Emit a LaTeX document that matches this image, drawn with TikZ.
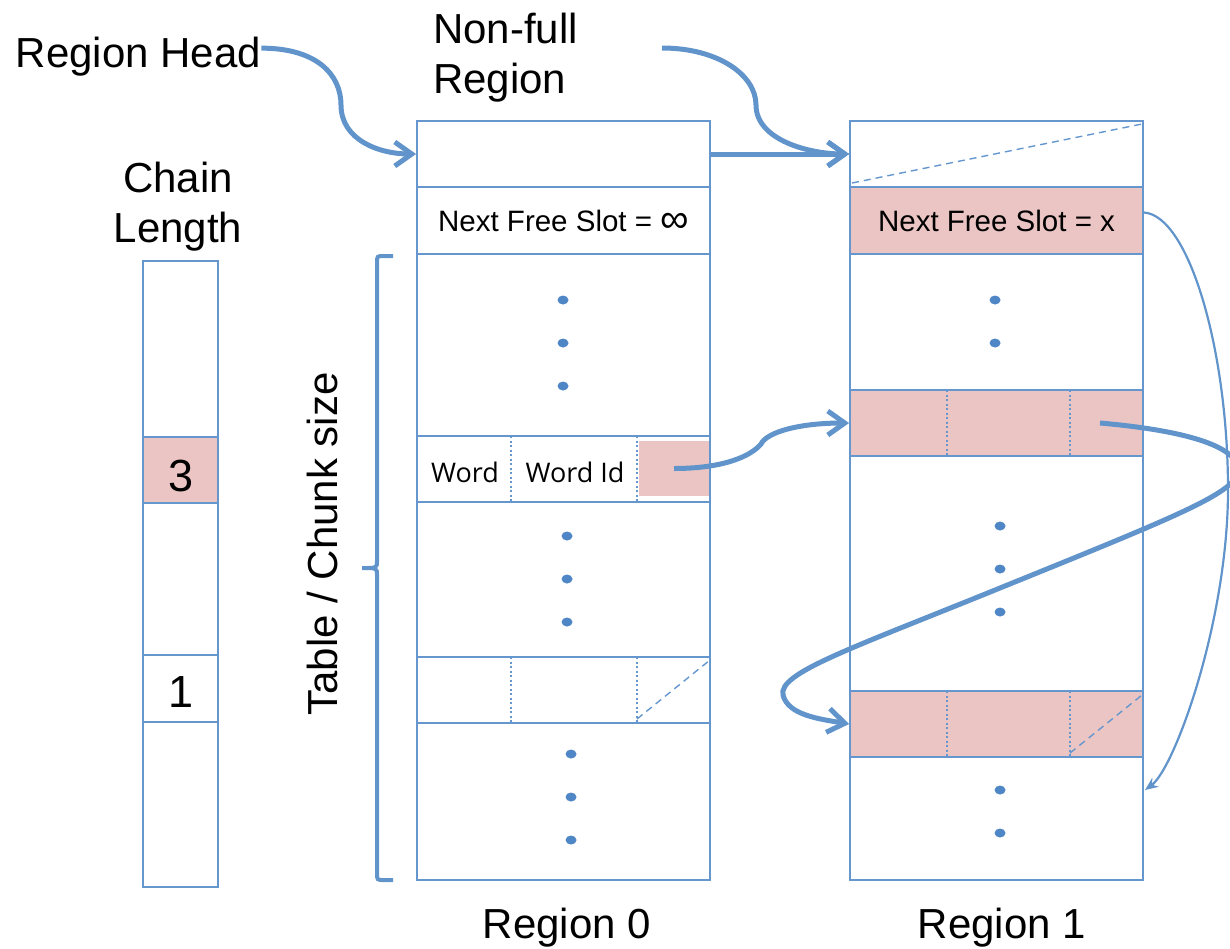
\documentclass[tikz,border=0pt]{standalone}
\usepackage{fontspec}
\setmainfont{Liberation Sans}
\newfontfamily\wordfont{Open Sans}
\usetikzlibrary{arrows.meta}
\definecolor{lineblue}{HTML}{6597CE}
\definecolor{arrowblue}{HTML}{6194CB}
\definecolor{dotblue}{HTML}{4F86C6}
\definecolor{pinkfill}{HTML}{EBC5C3}
\begin{document}
\begin{tikzpicture}[x=1pt,y=-1pt,
  cell/.style={draw=lineblue, line width=1.8pt, inner sep=0pt, minimum width=293pt},
  pinkcell/.style={cell, fill=pinkfill},
  chaincell/.style={draw=lineblue, line width=1.8pt, inner sep=0pt, minimum width=75pt},
  big/.style={font=\fontsize{42}{50}\selectfont, inner sep=0pt},
  mid/.style={font=\fontsize{29.5}{34}\selectfont, inner sep=0pt},
  wordtext/.style={font=\wordfont\fontsize{27}{31}\selectfont, inner sep=0pt},
  digit/.style={font=\fontsize{45}{50}\selectfont, inner sep=0pt},
  divider/.style={draw=lineblue, line width=1.8pt, dash pattern=on 2pt off 2.5pt},
  diag/.style={draw=lineblue, line width=1.4pt, dash pattern=on 7pt off 5pt},
  dotmark/.style={fill=dotblue},
  bracket/.style={draw=arrowblue, line width=4pt},
  thickarrow/.style={draw=arrowblue, line width=5pt, -{Straight Barb[length=17pt, width=24pt]}},
  thinarrow/.style={draw=arrowblue, line width=2.2pt, -{Stealth[length=13pt, width=11pt]}}
]
\useasboundingbox (0,0) rectangle (1230,948);

% ---------- Region 0 ----------
\node[cell, minimum height=66pt]  (r0h) at (563.5,154) {};
\node[cell, minimum height=67pt]  (r0n) at (563.5,220.5) {};
\node[mid] (r0ntext) at (563.5,221) {Next Free Slot = {\fontsize{40}{40}\selectfont\raisebox{-1pt}{∞}}};
\node[cell, minimum height=182pt] (r0a) at (563.5,345) {};
\node[cell, minimum height=66pt]  (r0w) at (563.5,469) {};
\node[cell, minimum height=155pt] (r0b) at (563.5,579.5) {};
\node[cell, minimum height=66pt]  (r0e) at (563.5,690) {};
\node[cell, minimum height=157pt] (r0c) at (563.5,801.5) {};
\node[fill=pinkfill, inner sep=0pt, minimum width=70pt, minimum height=55pt] (r0ptr) at (674,468.5) {};
\draw[divider] (511,436) -- (511,502);
\draw[divider] (637,436) -- (637,502);
\draw[divider] (511,657) -- (511,723);
\draw[divider] (637,657) -- (637,723);
\draw[diag] (637,719) -- (710,660);
\node[wordtext, anchor=base] (word) at (465,482) {Word};
\node[wordtext, anchor=base] (wordid) at (575,482) {Word Id};
\foreach \y in {300,343,386} \fill[dotmark] (563,\y) ellipse (5.5pt and 4.5pt);
\foreach \y in {536,579,622} \fill[dotmark] (567,\y) ellipse (5.5pt and 4.5pt);
\foreach \y in {754,797,840} \fill[dotmark] (571,\y) ellipse (5.5pt and 4.5pt);

% ---------- Region 1 ----------
\node[cell, minimum height=66pt]      (r1h) at (996.5,154) {};
\node[pinkcell, minimum height=67pt]  (r1n) at (996.5,220.5) {};
\node[mid] (r1ntext) at (996.5,221) {Next Free Slot = x};
\node[cell, minimum height=136pt]     (r1a) at (996.5,322) {};
\node[pinkcell, minimum height=66pt]  (r1p) at (996.5,423) {};
\node[cell, minimum height=235pt]     (r1b) at (996.5,573.5) {};
\node[pinkcell, minimum height=66pt]  (r1q) at (996.5,724) {};
\node[cell, minimum height=123pt]     (r1c) at (996.5,818.5) {};
\draw[diag] (852,183) -- (1142,124);
\draw[divider] (947,390) -- (947,456);
\draw[divider] (1070,390) -- (1070,456);
\draw[divider] (947,691) -- (947,757);
\draw[divider] (1070,691) -- (1070,757);
\draw[diag] (1070,753) -- (1142,695);
\foreach \y in {300,343} \fill[dotmark] (995,\y) ellipse (5.5pt and 4.5pt);
\foreach \y in {526,569,612} \fill[dotmark] (1000,\y) ellipse (5.5pt and 4.5pt);
\foreach \y in {790,833} \fill[dotmark] (1000,\y) ellipse (5.5pt and 4.5pt);

% ---------- Chain length column ----------
\node[chaincell, minimum height=176pt] (c0) at (180.5,349) {};
\node[chaincell, minimum height=66pt, fill=pinkfill] (c3) at (180.5,470) {};
\node[chaincell, minimum height=152pt] (c4) at (180.5,579) {};
\node[chaincell, minimum height=67pt]  (c1) at (180.5,688.5) {};
\node[chaincell, minimum height=165pt] (c5) at (180.5,804.5) {};
\node[digit, anchor=base] (three) at (181,491) {3};
\node[digit, anchor=base] (one) at (181,707) {1};

% ---------- Labels ----------
\node[big, anchor=base] (rh) at (138.5,67) {Region Head};
\node[big, anchor=north west, align=left] (nf) at (433,13) {Non-full\\Region};
\node[big, anchor=north, align=center] (cl) at (178,162) {Chain\\Length};
\node[big, anchor=base] (reg0) at (567,938) {Region 0};
\node[big, anchor=base] (reg1) at (1002,938) {Region 1};
\node[big, anchor=base, rotate=90] (tcs) at (337,544) {Table / Chunk size};

% ---------- Bracket ----------
\draw[bracket] (393,256) -- (384,256) .. controls (377,256) .. (377,263) -- (377,561)
  .. controls (377,568) .. (362,568) .. controls (377,568) .. (377,575) -- (377,873)
  .. controls (377,880) .. (384,880) -- (393,880);

% ---------- Connectors ----------
\coordinate (w1) at (341,105);
\draw[thickarrow] ([yshift=8pt]rh.east) .. controls +(56,0) and +(0,-30) .. (w1)
  .. controls +(0,35) and +(-37,0) .. (r0h.west);

\coordinate (nfs) at (662,48);
\coordinate (w2) at (756,105);
\draw[thickarrow] (nfs) .. controls +(56,0) and +(0,-30) .. (w2)
  .. controls +(0,35) and +(-40,0) .. (r1h.west);

\draw[thickarrow] (r0h.east) -- (r1h.west);

\coordinate (w4) at (761,444);
\draw[thickarrow] (r0ptr.center) .. controls +(50,0) and +(-10,12) .. (w4)
  .. controls +(6,-12) and +(-50,0) .. (r1p.west);

\coordinate (p1) at (1100,423);
\coordinate (w5a) at (1238,470);
\coordinate (w5b) at (1000,588);
\coordinate (w5c) at (783,695);
\draw[thickarrow] (p1) .. controls +(80,7) and +(0,-25) .. (w5a)
  .. controls +(0,22) and +(180,-73) .. (w5b)
  .. controls +(-150,61) and +(-5,-22) .. (w5c)
  .. controls +(5,20) and +(-30,-5) .. (r1q.west);

\coordinate (w6) at (1228,490);
\coordinate (e6) at (1145,790);
\draw[thinarrow] ([yshift=8pt]r1n.east) .. controls +(45,3) and +(0,-140) .. (w6)
  .. controls +(0,130) and +(30,-22) .. (e6);
\end{tikzpicture}
\end{document}
